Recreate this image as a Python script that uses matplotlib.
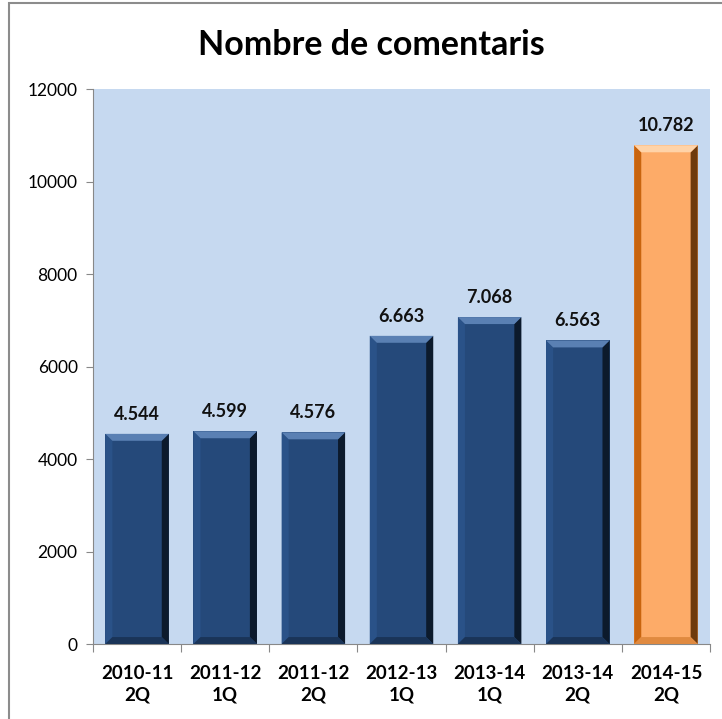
import matplotlib.pyplot as plt
from matplotlib.patches import Polygon, Rectangle
import numpy as np

# ── data ──────────────────────────────────────────────────
periods = ["2010-11\n2Q", "2011-12\n1Q", "2011-12\n2Q", "2012-13\n1Q",
           "2013-14\n1Q", "2013-14\n2Q", "2014-15\n2Q"]
comments = [4544, 4599, 4576, 6663, 7068, 6563, 10782]
labels = ["4.544", "4.599", "4.576", "6.663", "7.068", "6.563", "10.782"]

# ── style ─────────────────────────────────────────────────
BLUE = dict(face="#25497A", top="#5A80B3", left="#2A5288", right="#0C1A2C", bottom="#1A3458")
ORANGE = dict(face="#FDAB68", top="#FFD3A8", left="#C8640E", right="#6E3A0C", bottom="#E08A40")
BAR_W = 0.72
BEV_X = 0.08    # bevel width in category units
BEV_Y = 150     # bevel height in data units

plt.rcParams['font.family'] = ['Lato', 'DejaVu Sans']

fig = plt.figure(figsize=(7.22, 7.19), dpi=100)
ax = fig.add_axes([0.1288, 0.1043, 0.8546, 0.7719])
ax.set_facecolor("#C6D9F0")

x = np.arange(len(comments))
for i, (xi, v) in enumerate(zip(x, comments)):
    c = ORANGE if i == len(comments) - 1 else BLUE
    l, r = xi - BAR_W / 2, xi + BAR_W / 2
    ax.bar(xi, v, width=BAR_W, color=c["face"], edgecolor="none", zorder=2)
    # bevel faces
    ax.add_patch(Polygon([(l, 0), (l + BEV_X, BEV_Y), (l + BEV_X, v - BEV_Y), (l, v)],
                         closed=True, color=c["left"], lw=0, zorder=3))
    ax.add_patch(Polygon([(r, 0), (r - BEV_X, BEV_Y), (r - BEV_X, v - BEV_Y), (r, v)],
                         closed=True, color=c["right"], lw=0, zorder=3))
    ax.add_patch(Polygon([(l, v), (l + BEV_X, v - BEV_Y), (r - BEV_X, v - BEV_Y), (r, v)],
                         closed=True, color=c["top"], lw=0, zorder=3))
    ax.add_patch(Polygon([(l, 0), (l + BEV_X, BEV_Y), (r - BEV_X, BEV_Y), (r, 0)],
                         closed=True, color=c["bottom"], lw=0, zorder=3))
    ax.annotate(labels[i], (xi, v), xytext=(0, 8), textcoords="offset points",
                ha="center", va="bottom", fontsize=13, fontweight="bold", color="#111111")

ax.set_xlim(-0.5, len(comments) - 0.5)
ax.set_ylim(0, 12000)
ax.set_yticks(range(0, 12001, 2000))
ax.tick_params(axis="y", direction="out", length=5, color="#888888", labelsize=12.5, pad=6)

# category boundary ticks, labels centered in between
ax.set_xticks(np.arange(-0.5, len(comments), 1.0))
ax.set_xticklabels([])
ax.set_xticks(x, minor=True)
ax.set_xticklabels(periods, minor=True, fontsize=13.5, fontweight="bold", linespacing=1.3)
ax.tick_params(axis="x", which="major", direction="out", length=6, color="#888888")
ax.tick_params(axis="x", which="minor", length=0, pad=15)

for s in ["top", "right"]:
    ax.spines[s].set_visible(False)
for s in ["left", "bottom"]:
    ax.spines[s].set_color("#888888")

fig.text(0.515, 0.937, "Nombre de comentaris", ha="center", va="center",
         fontsize=24.5, fontweight="bold")

# outer chart border
fig.patches.append(Rectangle((0.013, -0.01), 1.0, 1.006, transform=fig.transFigure,
                             fill=False, edgecolor="#8C8C8C", lw=1.5))

fig.savefig("out.png", dpi=100)
